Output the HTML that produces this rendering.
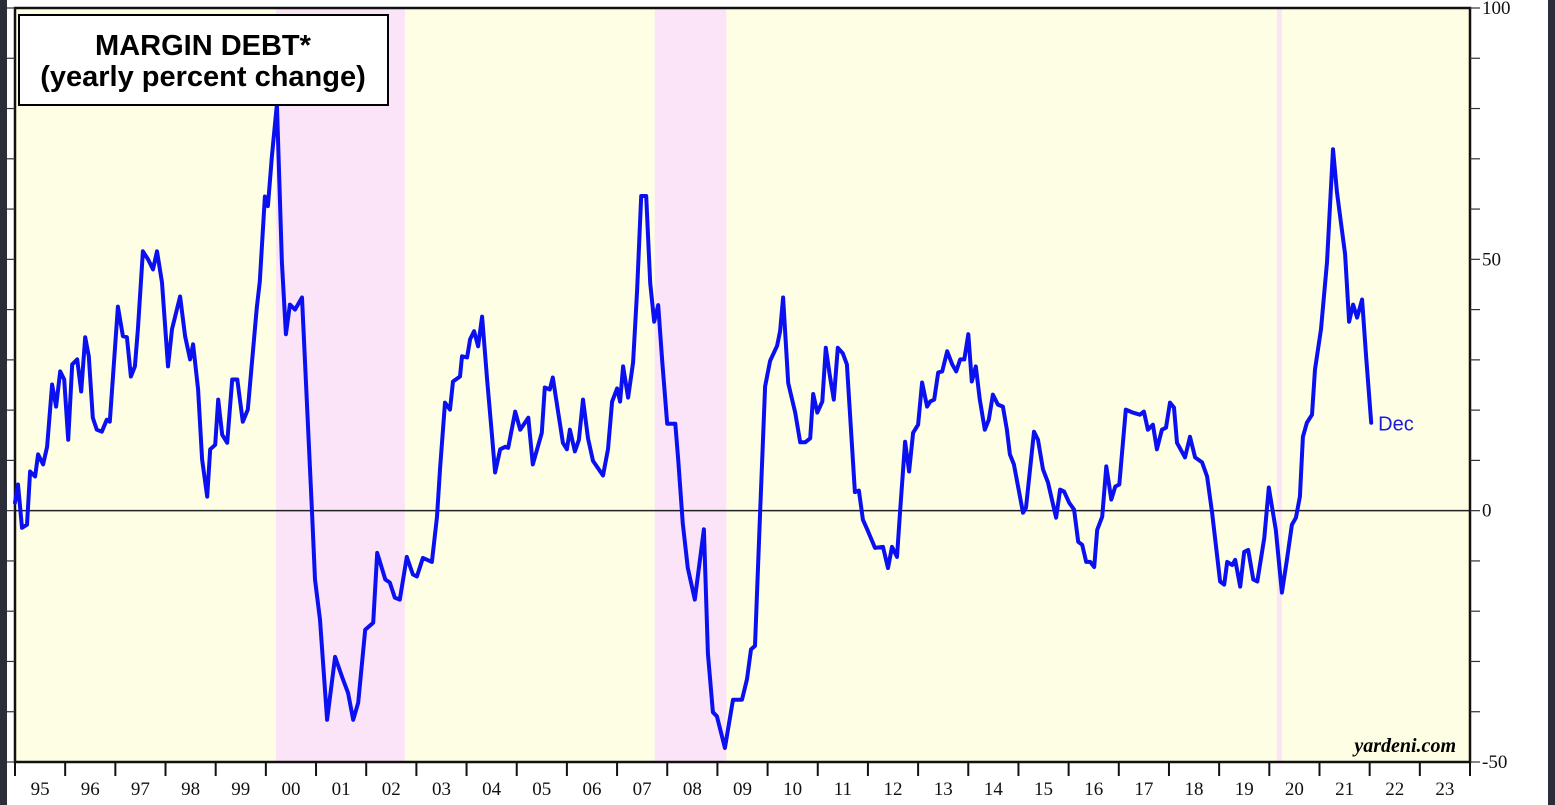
<!DOCTYPE html>
<html><head><meta charset="utf-8"><style>
html,body{margin:0;padding:0;background:#fff;}
svg{display:block;}
</style></head><body>
<svg id="chart" width="1555" height="805" viewBox="0 0 1555 805" xmlns="http://www.w3.org/2000/svg">
<rect x="0" y="0" width="1555" height="805" fill="#ffffff"/>
<rect x="0" y="0" width="7" height="805" fill="#2b2e38"/>
<rect x="1548" y="0" width="7" height="805" fill="#2b2e38"/>
<rect x="15" y="8" width="1455" height="754" fill="#fefee4"/>
<g id="recessions"></g>
<g id="grid"></g>
<g id="series"></g>
<rect x="19" y="15" width="369" height="90" fill="#ffffff" stroke="#000" stroke-width="2"/>
<text x="203" y="55" text-anchor="middle" font-family="Liberation Sans, sans-serif" font-weight="bold" font-size="29">MARGIN DEBT*</text>
<text x="203" y="86" text-anchor="middle" font-family="Liberation Sans, sans-serif" font-weight="bold" font-size="29">(yearly percent change)</text>
<text x="1456" y="752" text-anchor="end" font-family="Liberation Serif, serif" font-style="italic" font-weight="bold" font-size="20">yardeni.com</text>
</svg>
<script>
const dates = [1995.00,1995.06,1995.14,1995.24,1995.30,1995.40,1995.46,1995.56,1995.64,1995.74,1995.82,1995.90,1995.98,1996.06,1996.14,1996.24,1996.32,1996.40,1996.47,1996.55,1996.63,1996.73,1996.83,1996.89,1997.05,1997.15,1997.23,1997.31,1997.39,1997.45,1997.55,1997.65,1997.75,1997.83,1997.93,1998.05,1998.13,1998.29,1998.39,1998.49,1998.55,1998.65,1998.73,1998.83,1998.89,1998.99,1999.05,1999.13,1999.23,1999.33,1999.43,1999.54,1999.64,1999.82,1999.88,1999.98,2000.04,2000.12,2000.22,2000.32,2000.40,2000.48,2000.58,2000.72,2000.92,2000.98,2001.08,2001.22,2001.38,2001.52,2001.64,2001.74,2001.84,2001.98,2002.14,2002.22,2002.38,2002.47,2002.57,2002.67,2002.81,2002.93,2003.01,2003.13,2003.31,2003.41,2003.47,2003.57,2003.67,2003.73,2003.87,2003.91,2004.01,2004.07,2004.15,2004.23,2004.31,2004.41,2004.51,2004.57,2004.67,2004.77,2004.83,2004.97,2005.07,2005.23,2005.32,2005.50,2005.56,2005.66,2005.72,2005.92,2006.00,2006.06,2006.16,2006.24,2006.32,2006.42,2006.52,2006.72,2006.82,2006.90,2007.00,2007.06,2007.12,2007.22,2007.32,2007.40,2007.48,2007.58,2007.66,2007.74,2007.82,2007.90,2008.00,2008.16,2008.22,2008.31,2008.41,2008.55,2008.73,2008.81,2008.91,2008.99,2009.15,2009.31,2009.49,2009.59,2009.67,2009.75,2009.85,2009.95,2010.05,2010.19,2010.25,2010.31,2010.41,2010.55,2010.65,2010.75,2010.85,2010.91,2010.99,2011.09,2011.16,2011.24,2011.32,2011.40,2011.50,2011.58,2011.74,2011.82,2011.90,2011.99,2012.14,2012.30,2012.40,2012.48,2012.58,2012.64,2012.74,2012.82,2012.90,2013.00,2013.08,2013.18,2013.24,2013.32,2013.40,2013.48,2013.58,2013.68,2013.76,2013.84,2013.92,2014.00,2014.07,2014.15,2014.23,2014.33,2014.41,2014.49,2014.59,2014.69,2014.77,2014.83,2014.91,2015.09,2015.15,2015.31,2015.39,2015.49,2015.59,2015.75,2015.83,2015.91,2016.01,2016.11,2016.19,2016.27,2016.35,2016.43,2016.51,2016.57,2016.67,2016.75,2016.85,2016.93,2017.01,2017.14,2017.28,2017.42,2017.50,2017.58,2017.68,2017.76,2017.86,2017.94,2018.02,2018.10,2018.16,2018.32,2018.42,2018.52,2018.66,2018.76,2018.86,2019.02,2019.10,2019.16,2019.26,2019.32,2019.42,2019.50,2019.58,2019.68,2019.76,2019.90,2019.99,2020.13,2020.25,2020.35,2020.45,2020.53,2020.61,2020.67,2020.75,2020.85,2020.91,2021.03,2021.15,2021.27,2021.35,2021.51,2021.59,2021.67,2021.75,2021.85,2021.93,2022.03];
const values = [1.6,5.2,-3.4,-2.8,7.8,6.8,11.2,9.2,12.7,25.1,20.7,27.7,26.1,14.1,29.1,30.1,23.7,34.5,30.7,18.5,16.1,15.7,18.1,17.7,40.6,34.7,34.5,26.7,28.7,36.1,51.6,50.0,48.0,51.6,45.4,28.7,36.1,42.6,34.7,30.1,33.1,24.1,10.2,2.8,12.2,13.1,22.1,15.1,13.5,26.1,26.1,17.7,20.1,40.4,45.6,62.5,60.6,70.5,80.9,49.4,35.1,41.0,40.0,42.4,-0.2,-13.7,-21.7,-41.6,-29.1,-33.1,-36.3,-41.6,-38.2,-23.7,-22.3,-8.4,-13.7,-14.3,-17.3,-17.7,-9.2,-12.7,-13.1,-9.4,-10.2,-1.2,8.2,21.5,20.1,25.7,26.7,30.7,30.5,34.1,35.7,32.7,38.6,26.1,14.7,7.6,12.2,12.7,12.5,19.7,16.1,18.5,9.2,15.5,24.5,24.1,26.5,13.5,12.2,16.1,11.8,14.1,22.1,14.4,9.9,7.0,12.2,21.7,24.3,21.7,28.7,22.5,29.5,43.8,62.6,62.6,45.3,37.6,40.9,29.8,17.3,17.3,9.9,-2.6,-11.4,-17.7,-3.7,-28.4,-40.1,-40.9,-47.2,-37.6,-37.6,-33.5,-27.6,-26.9,-0.4,24.7,29.8,32.8,35.7,42.4,25.4,19.5,13.6,13.6,14.4,23.2,19.5,21.7,32.4,26.9,22.1,32.4,31.3,29.1,3.7,4.0,-1.8,-3.8,-7.4,-7.2,-11.4,-7.2,-9.2,-0.4,13.7,7.8,15.5,17.1,25.5,20.7,21.7,22.1,27.5,27.7,31.7,29.1,27.7,30.1,30.1,35.1,25.7,28.7,22.1,16.1,18.1,23.1,21.1,20.7,16.1,11.2,9.2,-0.4,0.6,15.7,14.1,8.2,5.6,-1.4,4.2,3.8,1.6,0.2,-6.2,-6.8,-10.2,-10.2,-11.2,-3.8,-1.2,8.8,2.2,4.8,5.2,20.1,19.5,19.1,19.7,16.1,17.1,12.2,16.1,16.5,21.5,20.5,13.5,10.6,14.7,10.6,9.6,6.8,-0.4,-14.1,-14.7,-10.2,-10.8,-9.8,-15.1,-8.2,-7.8,-13.7,-14.1,-5.4,4.6,-3.8,-16.3,-9.8,-2.8,-1.4,2.8,14.7,17.5,19.1,28.1,36.1,49.4,71.9,63.3,51.0,37.6,41.0,38.4,42.0,30.7,17.5];
const recessionStarts = [2000.2, 2007.75, 2020.15];
const recessionEnds = [2002.77, 2009.18, 2020.25];
const yearLabels = ["95","96","97","98","99","00","01","02","03","04","05","06","07","08","09","10","11","12","13","14","15","16","17","18","19","20","21","22","23"];
const yTickLabels = [100, 50, 0, -50];

const NS = "http://www.w3.org/2000/svg";
const X0 = 15, X1 = 1470, Y0 = 8, Y1 = 762;
const T0 = 1995, T1 = 2024, VMIN = -50, VMAX = 100;
function xs(t){ return X0 + (t - T0) / (T1 - T0) * (X1 - X0); }
function ys(v){ return Y1 - (v - VMIN) / (VMAX - VMIN) * (Y1 - Y0); }
function mk(tag, attrs, parent){ const e = document.createElementNS(NS, tag); for (const k in attrs) e.setAttribute(k, attrs[k]); parent.appendChild(e); return e; }

const rec = document.getElementById('recessions');
recessionStarts.forEach((s, i) => {
  const r = mk('rect', {x: xs(s), y: Y0, width: xs(recessionEnds[i]) - xs(s), height: Y1 - Y0, fill: '#fce4f8'}, rec);
  
  
});

const g = document.getElementById('grid');
const zl = mk('line', {x1: X0, x2: X1, y1: ys(0), y2: ys(0), stroke: '#222', 'stroke-width': 1.5}, g);


const frame = mk('rect', {x: X0, y: Y0, width: X1 - X0, height: Y1 - Y0, fill: 'none', stroke: '#111', 'stroke-width': 2.5}, g);



for (let v = VMIN; v <= VMAX; v += 10) {
  const y = ys(v);
  const tl = mk('line', {x1: 7, x2: X0, y1: y, y2: y, stroke: '#333', 'stroke-width': 1.2}, g);
  
  
  const tr = mk('line', {x1: X1, x2: X1 + 10, y1: y, y2: y, stroke: '#333', 'stroke-width': 1.2}, g);
  
  
}
yTickLabels.forEach(v => {
  const t = mk('text', {x: 1482, y: ys(v) + 6, 'font-family': 'Liberation Serif, serif', 'font-size': 19, fill: '#111'}, g);
  t.textContent = v;
  
  
});
yearLabels.forEach((lab, i) => {
  const x = xs(T0 + i);
  const tk = mk('line', {x1: x, x2: x, y1: Y1, y2: Y1 + 14, stroke: '#111', 'stroke-width': 2}, g);
  
  
  const t = mk('text', {x: xs(T0 + i + 0.5), y: 795, 'text-anchor': 'middle', 'font-family': 'Liberation Serif, serif', 'font-size': 19, fill: '#111'}, g);
  t.textContent = lab;
  
  
});
const lastTk = mk('line', {x1: X1, x2: X1, y1: Y1, y2: Y1 + 14, stroke: '#111', 'stroke-width': 2}, g);



const s = document.getElementById('series');
const d = dates.map((t, i) => (i ? 'L' : 'M') + xs(t).toFixed(1) + ',' + ys(values[i]).toFixed(1)).join(' ');
const path = mk('path', {d: d, fill: 'none', stroke: '#0a10f0', 'stroke-width': 4, 'stroke-linejoin': 'round', 'stroke-linecap': 'round'}, s);


const n = dates.length - 1;
const lbl = mk('text', {x: xs(dates[n]) + 7, y: ys(values[n]) + 8, 'font-family': 'Liberation Sans, sans-serif', 'font-size': 20, fill: '#1a1ae0'}, s);
lbl.textContent = 'Dec';


</script>
</body></html>
